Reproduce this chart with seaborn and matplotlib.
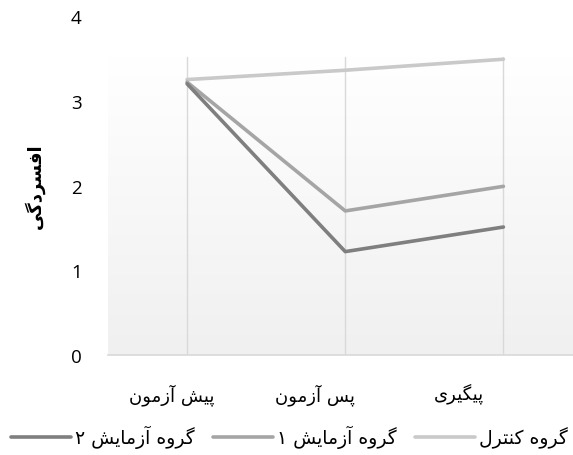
import numpy as np
import pandas as pd
import matplotlib
matplotlib.use("Agg")
import matplotlib.pyplot as plt
import matplotlib.transforms as mtransforms
import seaborn as sns
from matplotlib.lines import Line2D

# Persian text, written in presentation forms and visual (left-to-right) order
stages = ["\uFEE5\uFEEE\uFEE3\uFEAF\uFE81 \uFEB6\uFBFF\uFB58",   # pish azmoon
          "\uFEE5\uFEEE\uFEE3\uFEAF\uFE81 \uFEB2\uFB58",         # pas azmoon
          "\uFBFC\uFEAE\uFBFF\uFB95\uFBFF\uFB58"]                # peygiri
groups = ["\uFEDD\uFEAE\uFE98\uFEE8\uFB90 \uFEE9\uFEED\uFEAE\uFB94",                              # control
          "\u06F1 \uFEB6\uFBFE\uFE8E\uFEE3\uFEAF\uFE81 \uFEE9\uFEED\uFEAE\uFB94",                  # exp 1
          "\u06F2 \uFEB6\uFBFE\uFE8E\uFEE3\uFEAF\uFE81 \uFEE9\uFEED\uFEAE\uFB94"]                  # exp 2
y_label = "\uFBFD\uFB94\uFEA9\uFEAE\uFEB4\uFED3\uFE8D"

control = [3.25, 3.36, 3.49]
exp1 = [3.22, 1.70, 1.99]
exp2 = [3.20, 1.22, 1.51]
colors = ["#c9c9c9", "#a5a5a5", "#7f7f7f"]

df = pd.DataFrame({
    "stage": stages * 3,
    "score": control + exp1 + exp2,
    "group": [groups[0]] * 3 + [groups[1]] * 3 + [groups[2]] * 3,
})

sns.set_style("white")
plt.rcParams["font.family"] = ["DejaVu Sans"]
plt.rcParams["text.color"] = "black"

fig = plt.figure(figsize=(5.73, 4.56), dpi=100)
ax = fig.add_axes([108 / 573, 100 / 456, 465 / 573, 339 / 456])

sns.lineplot(data=df, x="stage", y="score", hue="group", hue_order=groups,
             palette=colors, sort=False, linewidth=2.6, legend=False, ax=ax, zorder=3)

ax.set_xlim(-0.5, 2.44)
ax.set_ylim(0, 4)
area_top = 3.52

# gradient plot-area fill (white at top, light gray at bottom)
grad = np.linspace(0, 1, 256).reshape(-1, 1)
cmap = matplotlib.colors.LinearSegmentedColormap.from_list("g", ["#f0f0f0", "#ffffff"])
ax.imshow(grad, cmap=cmap, origin="lower", aspect="auto",
          extent=[-0.5, 2.44, 0, area_top], zorder=0)

# vertical gridlines at categories, inside plot area only
for i in range(len(stages)):
    ax.axvline(i, ymax=area_top / 4, color="#d9d9d9", linewidth=1, zorder=1)

for s in ["left", "right", "top"]:
    ax.spines[s].set_visible(False)
ax.spines["bottom"].set_color("#d9d9d9")
ax.spines["bottom"].set_linewidth(1.2)

ax.set_yticks([0, 1, 2, 3, 4])
ax.set_yticklabels(["0", "1", "2", "3", "4"], fontsize=13.5, fontfamily="Open Sans")
ax.set_xticks(range(len(stages)))
ax.set_xticklabels(stages, fontsize=13)
ax.tick_params(axis="both", length=0, labelcolor="black")
ax.tick_params(axis="y", pad=19)
ax.tick_params(axis="x", pad=20)

# right-to-left labels sit a little left of their categories
for lab, dx in zip(ax.get_xticklabels(), [-15, -30, -44]):
    off = mtransforms.ScaledTranslation(dx / 100, 0, fig.dpi_scale_trans)
    lab.set_transform(lab.get_transform() + off)

ax.set_xlabel("")
ax.set_ylabel(y_label, fontsize=13, fontweight="bold", color="black")
ax.yaxis.set_label_coords(-0.135, 0.50)

# legend in right-to-left order: line to the left of each label
handles = [Line2D([], [], color=colors[i], linewidth=2.6) for i in (2, 1, 0)]
labels = [groups[i] for i in (2, 1, 0)]
fig.legend(handles, labels, loc="center", bbox_to_anchor=(0.505, 0.04), ncol=3,
           frameon=False, fontsize=13.5, handlelength=3.2, columnspacing=1.0,
           handletextpad=0.2, labelcolor="black")

fig.savefig("out.png", dpi=100)
